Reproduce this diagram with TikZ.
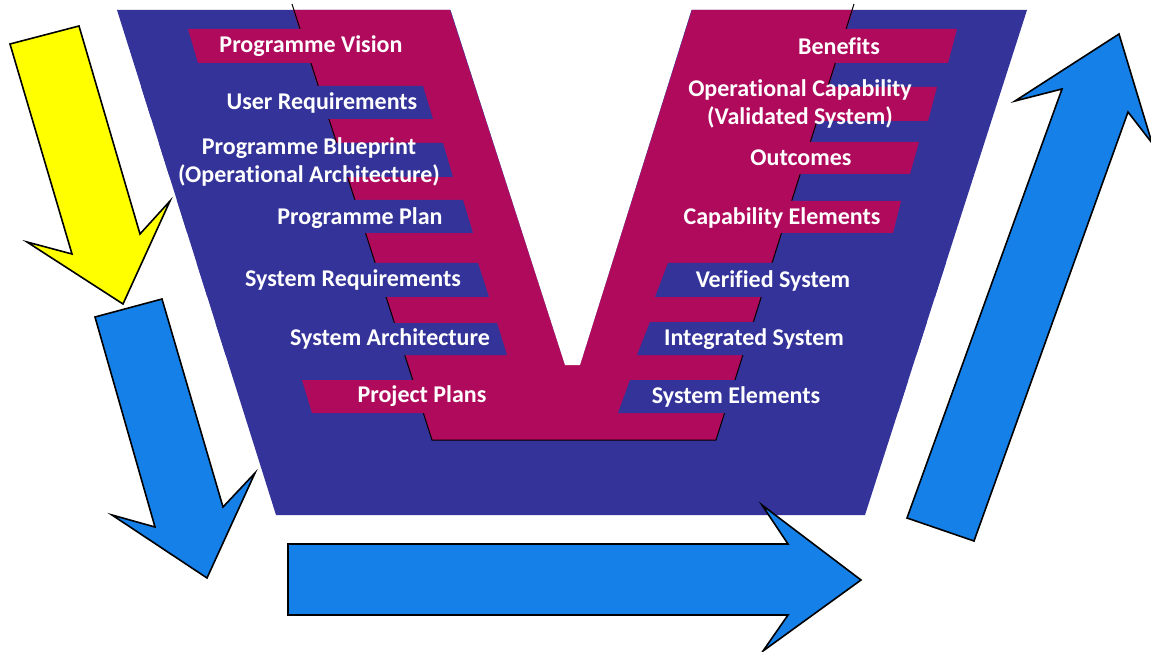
\documentclass[tikz,border=0pt]{standalone}
\usepackage{fontspec}
\setmainfont{Carlito}[RawFeature={-liga;-calt;-clig;-dlig}]
\definecolor{vblue}{HTML}{33339A}
\definecolor{vmag}{HTML}{B00A5C}
\definecolor{arrblue}{HTML}{1580E8}
\definecolor{arryellow}{HTML}{FFFF00}
\begin{document}
\begin{tikzpicture}[x=1pt,y=-1pt,
  lbl/.style={text=white,font=\bfseries\fontsize{24}{28}\selectfont,align=center,inner sep=0pt},
  arr/.style={draw=black,line width=1.6pt,line join=miter}]
\useasboundingbox (0,0) rectangle (1151,652);
% trapezoid and V
\fill[vblue] (117,10) -- (1027,10) -- (865,515) -- (276,515) -- cycle;
\fill[vmag] (293,10) -- (450,10) -- (565,365) -- (580,365) -- (692,10) -- (853,10) -- (716,440) -- (432,440) -- cycle;
\draw[black,line width=1pt] (292,4) -- (432,440) -- (716,440) -- (854,4);
% bands
\begin{scope}
\clip (117,10) -- (1027,10) -- (865,515) -- (276,515) -- cycle;
\fill[vmag] (188,29) -- (420,29) -- (420,63) -- (198,63) -- cycle;
\fill[vmag] (302,380) -- (520,380) -- (520,413) -- (312,413) -- cycle;
\fill[vblue] (100,86) -- (423,86) -- (433,119) -- (100,119) -- cycle;
\fill[vblue] (100,143) -- (443,143) -- (453,177) -- (100,177) -- cycle;
\fill[vblue] (100,200) -- (463,200) -- (473,233) -- (100,233) -- cycle;
\fill[vblue] (100,263) -- (478,263) -- (489,297) -- (100,297) -- cycle;
\fill[vblue] (100,323) -- (497,323) -- (507,355) -- (100,355) -- cycle;
\fill[vmag] (720,29) -- (957,29) -- (948,63) -- (720,63) -- cycle;
\fill[vmag] (700,87) -- (937,87) -- (928,121) -- (700,121) -- cycle;
\fill[vmag] (700,142) -- (919,142) -- (910,174) -- (700,174) -- cycle;
\fill[vmag] (690,201) -- (901,201) -- (893,233) -- (690,233) -- cycle;
\fill[vblue] (668,263) -- (1000,263) -- (1000,297) -- (655,297) -- cycle;
\fill[vblue] (650,322) -- (1000,322) -- (1000,355) -- (637,355) -- cycle;
\fill[vblue] (630,380) -- (1000,380) -- (1000,413) -- (618,413) -- cycle;
\end{scope}
% white notch of the V
\fill[white] (450,8) -- (565,365) -- (580,365) -- (692,8) -- cycle;
% labels
\node[lbl] (pv) at (311,46) {Programme Vision};
\node[lbl] (ur) at (322,103) {User Requirements};
\node[lbl] (pb) at (309,162) {Programme Blueprint\\(Operational Architecture)};
\node[lbl] (pp) at (360,218) {Programme Plan};
\node[lbl] (sr) at (353,280) {System Requirements};
\node[lbl] (sa) at (390,339) {System Architecture};
\node[lbl] (pj) at (422,396) {Project Plans};
\node[lbl] (be) at (839,46) {Benefits};
\node[lbl] (oc) at (800,104) {Operational Capability\\(Validated System)};
\node[lbl] (ou) at (801,158) {Outcomes};
\node[lbl] (ce) at (782,218) {Capability Elements};
\node[lbl] (vs) at (773,281) {Verified System};
\node[lbl] (is) at (754,339) {Integrated System};
\node[lbl] (se) at (736,397) {System Elements};
% arrows
\filldraw[arr,fill=arryellow] (10,44) -- (79,26) -- (140,234) -- (170,201) -- (123,304) -- (27,242) -- (72,254) -- cycle;
\filldraw[arr,fill=arrblue] (95,317) -- (162,299) -- (223,507) -- (255,473) -- (207,578) -- (112,515) -- (155,527) -- cycle;
\filldraw[arr,fill=arrblue] (288,544) -- (788,544) -- (762,505) -- (861,580) -- (763,651) -- (788,615) -- (288,615) -- cycle;
\filldraw[arr,fill=arrblue] (907,518) -- (1062,89) -- (1015,101) -- (1119,34) -- (1152,143) -- (1128,112) -- (974,541) -- cycle;
\end{tikzpicture}
\end{document}
